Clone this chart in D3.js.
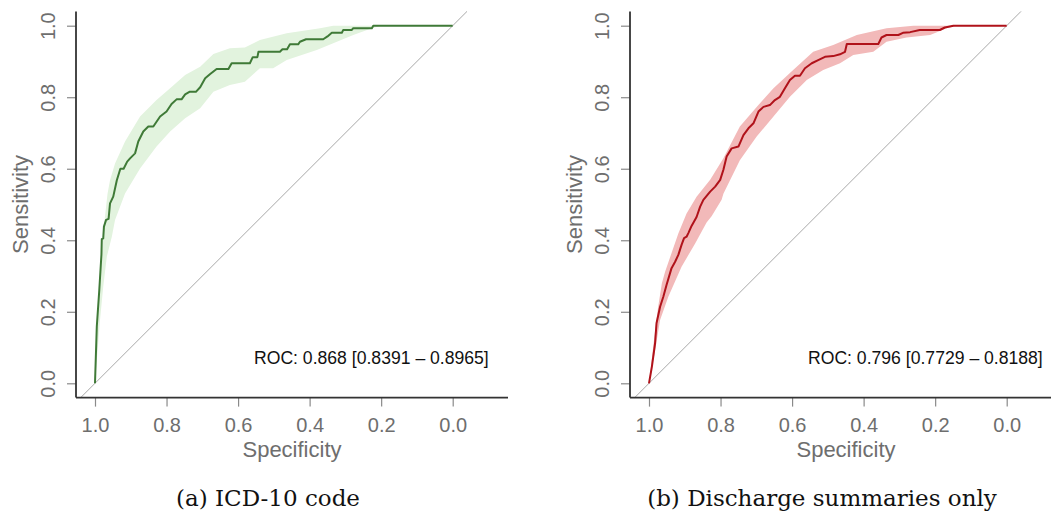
<!DOCTYPE html>
<html>
<head>
<meta charset="utf-8">
<script src="https://cdn.jsdelivr.net/npm/d3@7"></script>
<style>
  html, body { margin: 0; padding: 0; background: #fff; }
  svg { display: block; }
</style>
</head>
<body>
<svg id="chart" width="1051" height="515"></svg>
<script>
// ---- ROC curve, panel (a): ICD-10 code ----
const icdSpec = [1.0, 0.995, 0.988, 0.982, 0.981, 0.977, 0.975, 0.969, 0.962, 0.958, 0.949, 0.939, 0.930, 0.929, 0.920, 0.910, 0.902, 0.888, 0.879, 0.865, 0.851, 0.837, 0.818, 0.800, 0.786, 0.772, 0.758, 0.748, 0.736, 0.718, 0.706, 0.692, 0.678, 0.660, 0.627, 0.618, 0.567, 0.559, 0.546, 0.543, 0.483, 0.476, 0.463, 0.455, 0.432, 0.427, 0.410, 0.362, 0.350, 0.338, 0.310, 0.306, 0.282, 0.278, 0.226, 0.222, 0.0];
const icdSens = [0.0, 0.158, 0.261, 0.360, 0.403, 0.405, 0.438, 0.457, 0.460, 0.503, 0.522, 0.568, 0.597, 0.600, 0.600, 0.620, 0.629, 0.643, 0.676, 0.704, 0.718, 0.718, 0.746, 0.760, 0.781, 0.794, 0.794, 0.808, 0.815, 0.815, 0.828, 0.853, 0.865, 0.879, 0.879, 0.895, 0.895, 0.912, 0.912, 0.927, 0.927, 0.934, 0.934, 0.948, 0.948, 0.955, 0.962, 0.962, 0.970, 0.980, 0.980, 0.988, 0.988, 0.993, 0.993, 1.0, 1.0];
// confidence band (sensitivity bounds)
const icdHiSpec = [1.0, 0.995, 0.985, 0.975, 0.965, 0.958, 0.944, 0.916, 0.874, 0.828, 0.790, 0.748, 0.706, 0.669, 0.623, 0.581, 0.539, 0.464, 0.371, 0.334, 0.0];
const icdHi     = [0.0, 0.160, 0.300, 0.440, 0.530, 0.568, 0.615, 0.676, 0.746, 0.792, 0.825, 0.862, 0.885, 0.921, 0.937, 0.939, 0.960, 0.979, 0.993, 1.0, 1.0];
const icdLoSpec = [1.0, 0.986, 0.977, 0.967, 0.953, 0.944, 0.916, 0.874, 0.828, 0.790, 0.748, 0.706, 0.669, 0.623, 0.581, 0.539, 0.502, 0.464, 0.380, 0.334, 0.278, 0.226, 0.200, 0.0];
const icdLo     = [0.0, 0.177, 0.270, 0.354, 0.410, 0.457, 0.531, 0.601, 0.662, 0.704, 0.741, 0.769, 0.815, 0.834, 0.843, 0.881, 0.881, 0.904, 0.932, 0.951, 0.974, 0.993, 1.0, 1.0];

// ---- ROC curve, panel (b): discharge summaries only ----
const dsSpec = [1.0, 0.992, 0.983, 0.979, 0.969, 0.960, 0.951, 0.937, 0.927, 0.918, 0.909, 0.902, 0.895, 0.890, 0.881, 0.867, 0.857, 0.848, 0.829, 0.815, 0.801, 0.792, 0.783, 0.769, 0.750, 0.736, 0.722, 0.708, 0.694, 0.680, 0.662, 0.648, 0.634, 0.620, 0.606, 0.592, 0.578, 0.564, 0.545, 0.527, 0.508, 0.485, 0.466, 0.452, 0.447, 0.359, 0.350, 0.336, 0.303, 0.290, 0.270, 0.243, 0.187, 0.173, 0.149, 0.0];
const dsSens = [0.0, 0.046, 0.112, 0.168, 0.214, 0.242, 0.275, 0.322, 0.340, 0.359, 0.387, 0.406, 0.410, 0.420, 0.440, 0.465, 0.494, 0.513, 0.536, 0.550, 0.569, 0.597, 0.634, 0.657, 0.662, 0.694, 0.713, 0.727, 0.760, 0.773, 0.778, 0.792, 0.801, 0.825, 0.848, 0.860, 0.860, 0.881, 0.895, 0.904, 0.913, 0.915, 0.920, 0.927, 0.949, 0.949, 0.967, 0.974, 0.974, 0.980, 0.982, 0.988, 0.988, 0.995, 1.0, 1.0];
const dsHiSpec = [1.0, 0.985, 0.975, 0.964, 0.955, 0.918, 0.895, 0.867, 0.829, 0.792, 0.746, 0.699, 0.652, 0.597, 0.541, 0.485, 0.419, 0.336, 0.261, 0.0];
const dsHi     = [0.0, 0.130, 0.210, 0.280, 0.312, 0.419, 0.475, 0.522, 0.569, 0.629, 0.718, 0.773, 0.825, 0.876, 0.927, 0.946, 0.974, 0.993, 1.0, 1.0];
const dsLoSpec = [1.0, 0.985, 0.969, 0.946, 0.909, 0.871, 0.839, 0.825, 0.797, 0.792, 0.746, 0.699, 0.652, 0.606, 0.559, 0.513, 0.466, 0.429, 0.373, 0.336, 0.280, 0.214, 0.168, 0.140, 0.0];
const dsLo     = [0.0, 0.080, 0.177, 0.242, 0.326, 0.391, 0.450, 0.467, 0.513, 0.530, 0.624, 0.690, 0.746, 0.801, 0.848, 0.876, 0.895, 0.918, 0.927, 0.955, 0.967, 0.974, 0.993, 1.0, 1.0];

// ---- axis ticks and labels ----
const xTicks = [1.0, 0.8, 0.6, 0.4, 0.2, 0.0];
const yTicks = [0.0, 0.2, 0.4, 0.6, 0.8, 1.0];
const panelCaptions = ["(a) ICD-10 code", "(b) Discharge summaries only"];
const aucLabels = ["ROC: 0.868 [0.8391 \u2013 0.8965]", "ROC: 0.796 [0.7729 \u2013 0.8188]"];
const xTitle = "Specificity";
const yTitle = "Sensitivity";

const zip = (a, b) => a.map((v, i) => [v, b[i]]);

const panels = [
  { off: 0,   curve: zip(icdSpec, icdSens), hi: zip(icdHiSpec, icdHi), lo: zip(icdLoSpec, icdLo),
    line: "#3f7a37", band: "#e2f3de" },
  { off: 554, curve: zip(dsSpec, dsSens),   hi: zip(dsHiSpec, dsHi),   lo: zip(dsLoSpec, dsLo),
    line: "#b0121a", band: "#f2b9b9" }
];

const svg = d3.select("#chart");
svg.append("rect").attr("width", 1051).attr("height", 515).attr("fill", "#fff");

const tickGray = "#6e6e6e";

panels.forEach((p, i) => {
  const g = svg.append("g").attr("transform", `translate(${p.off},0)`);

  const x = d3.scaleLinear().domain([1, 0]).range([95, 452.7]);
  const y = d3.scaleLinear().domain([0, 1]).range([383.3, 25.7]);

  const left = 76, right = 508;
  const top = y(1.04), bottom = y(-0.04);

  const line = d3.line().x(d => x(d[0])).y(d => y(d[1]));

  // confidence band polygon
  const poly = p.hi.concat(p.lo.slice().reverse());
  g.append("path")
    .attr("d", line(poly) + "Z")
    .attr("fill", p.band)
    .attr("stroke", "none");

  // chance diagonal
  g.append("path")
    .attr("d", line([[1.04, -0.04], [-0.04, 1.04]]))
    .attr("stroke", "#a8a8a8")
    .attr("stroke-width", 1)
    .attr("fill", "none");

  // ROC curve
  g.append("path")
    .attr("d", line(p.curve))
    .attr("stroke", p.line)
    .attr("stroke-width", 2)
    .attr("stroke-linejoin", "round")
    .attr("fill", "none");

  // x axis
  const xAxis = d3.axisBottom(x).tickValues(xTicks).tickFormat(d3.format(".1f"))
    .tickSize(9).tickSizeOuter(0).tickPadding(5);
  const gx = g.append("g").attr("transform", `translate(0,${bottom})`).call(xAxis);
  gx.select(".domain").remove();
  gx.selectAll(".tick line").attr("stroke", "#8a8a8a").attr("stroke-width", 1.2);
  gx.selectAll(".tick text")
    .attr("fill", tickGray)
    .attr("font-family", "'Liberation Sans', Arial, sans-serif")
    .attr("font-size", 20)
    .attr("dy", null)
    .attr("y", 34);
  g.append("line")
    .attr("x1", left).attr("x2", right)
    .attr("y1", bottom).attr("y2", bottom)
    .attr("stroke", "#333").attr("stroke-width", 1.6);

  // y axis
  const yAxis = d3.axisLeft(y).tickValues(yTicks).tickFormat(d3.format(".1f"))
    .tickSize(9).tickSizeOuter(0);
  const gy = g.append("g").attr("transform", `translate(${left},0)`).call(yAxis);
  gy.select(".domain").remove();
  gy.selectAll(".tick line").attr("stroke", "#8a8a8a").attr("stroke-width", 1.2);
  gy.selectAll(".tick text")
    .attr("fill", tickGray)
    .attr("font-family", "'Liberation Sans', Arial, sans-serif")
    .attr("font-size", 20)
    .attr("x", null).attr("dy", null)
    .attr("text-anchor", "middle")
    .attr("transform", "translate(-21,0) rotate(-90)");
  g.append("line")
    .attr("x1", left).attr("x2", left)
    .attr("y1", top).attr("y2", bottom)
    .attr("stroke", "#333").attr("stroke-width", 1.8);

  // axis titles
  g.append("text")
    .attr("x", (left + right) / 2).attr("y", 456.5)
    .attr("text-anchor", "middle")
    .attr("fill", tickGray)
    .attr("font-family", "'Liberation Sans', Arial, sans-serif")
    .attr("font-size", 22)
    .text(xTitle);
  g.append("text")
    .attr("transform", `translate(27.5,${(top + bottom) / 2}) rotate(-90)`)
    .attr("text-anchor", "middle")
    .attr("fill", tickGray)
    .attr("font-family", "'Liberation Sans', Arial, sans-serif")
    .attr("font-size", 22)
    .text(yTitle);

  // AUC annotation
  g.append("text")
    .attr("x", 254).attr("y", 363.5)
    .attr("fill", "#111")
    .attr("font-family", "'Liberation Sans', Arial, sans-serif")
    .attr("font-size", 17.6)
    .text(aucLabels[i]);

  // panel caption
  g.append("text")
    .attr("x", 268).attr("y", 506)
    .attr("text-anchor", "middle")
    .attr("fill", "#111")
    .attr("font-family", "'DejaVu Serif', serif")
    .attr("font-size", 23)
    .text(panelCaptions[i]);
});
</script>
</body>
</html>
